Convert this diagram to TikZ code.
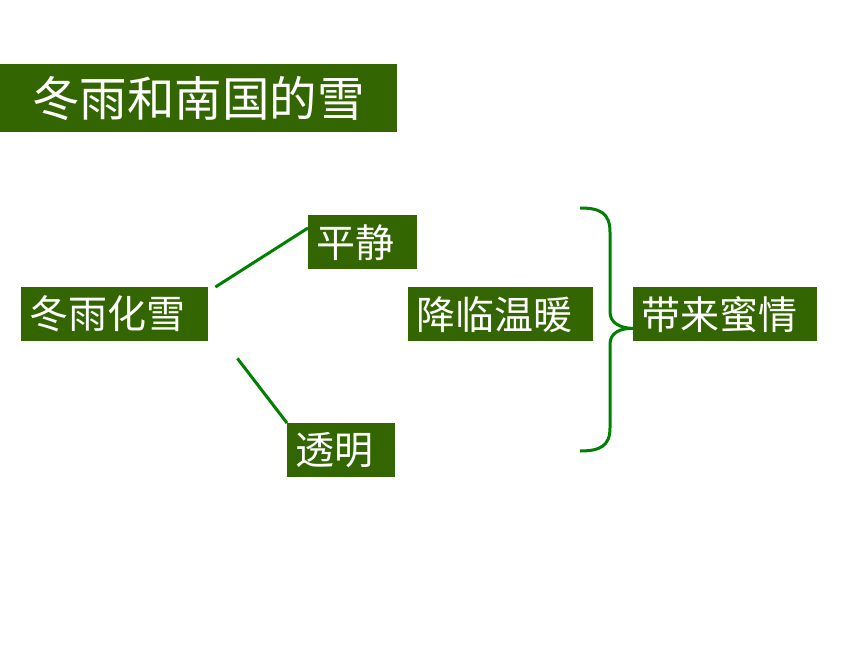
\documentclass[tikz,border=0pt]{standalone}
\usepackage{fontspec}
\setmainfont{Noto Sans CJK SC}
\usetikzlibrary{calc}
\definecolor{boxgreen}{HTML}{336600}
\definecolor{linegreen}{HTML}{008000}
\tikzset{
  gbox/.style={fill=boxgreen, text=white, anchor=north west, inner xsep=8pt, inner ysep=0pt,
    minimum height=54pt, font=\fontsize{39}{39}\selectfont, align=left},
  conn/.style={draw=linegreen, line width=3pt},
}
\begin{document}
\begin{tikzpicture}[x=1pt,y=-1pt]
\useasboundingbox (0,0) rectangle (860,645);
\node[gbox, minimum height=68pt, inner xsep=32pt, text width=333pt,
      font=\fontsize{47.5}{47.5}\selectfont] (title) at (0,64) {冬雨和南国的雪};
\node[gbox, text width=171pt] (dyhx) at (21,287) {冬雨化雪};
\node[gbox, text width=93pt] (pj) at (308,215) {平静};
\node[gbox, text width=92pt] (tm) at (287,423) {透明};
\node[gbox, text width=169pt] (jl) at (408,287) {降临温暖};
\node[gbox, text width=168pt] (dl) at (633,287) {带来蜜情};
\draw[conn] ($(dyhx.north east)+(7,0)$) -- ($(pj.north west)+(0,13)$);
\draw[conn] ($(dyhx.south east)+(29,17)$) -- (tm.north west);
\coordinate (btop) at (580,208);
\coordinate (bbot) at (580,451);
\coordinate (btip) at ($(dl.south west)+(0,-13)$);
\draw[conn] (btop) .. controls (600,208) and (610,213) .. (610,232) -- (610,312)
  .. controls (610,323) and (620,328) .. (btip)
  .. controls (620,328) and (610,333) .. (610,344) -- (610,428)
  .. controls (610,446) and (600,451) .. (bbot);
\end{tikzpicture}
\end{document}
